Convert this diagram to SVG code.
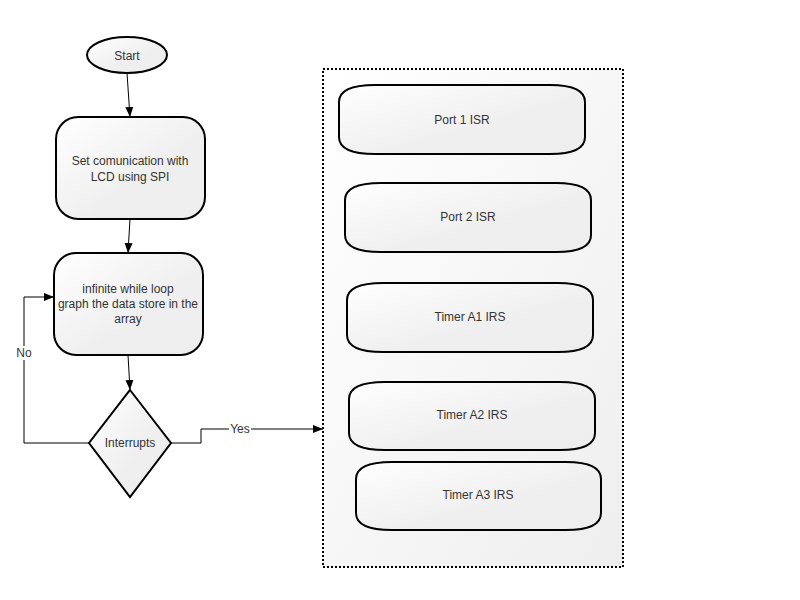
<svg xmlns="http://www.w3.org/2000/svg" width="800" height="600" viewBox="0 0 800 600">
<defs>
<linearGradient id="g" x1="0" y1="0" x2="1" y2="1">
<stop offset="0" stop-color="#ffffff"/>
<stop offset="0.6" stop-color="#efefef"/>
<stop offset="1" stop-color="#eeeeee"/>
</linearGradient>
<linearGradient id="gc" x1="0" y1="0" x2="1" y2="1">
<stop offset="0" stop-color="#ffffff"/>
<stop offset="1" stop-color="#eeeeee"/>
</linearGradient>
<marker id="arr" viewBox="0 0 10 10" refX="10" refY="5" markerWidth="10" markerHeight="10" markerUnits="userSpaceOnUse" orient="auto">
<path d="M0,1 L10,5 L0,9 Z" fill="#000"/>
</marker>
<style>
.node{fill:url(#g);stroke:#000;stroke-width:2}
.t{font-family:"Liberation Sans",Arial,sans-serif;font-size:12px;fill:#333;text-anchor:middle;dominant-baseline:central}
.c{fill:none;stroke:#000;stroke-width:1}
.lbl{fill:#fff}
</style>
</defs>
<rect width="800" height="600" fill="#fff"/>

<g id="container">
<rect x="323" y="69" width="300" height="498" fill="url(#gc)" stroke="#000" stroke-width="2" stroke-dasharray="2,2"/>
</g>

<g id="start">
<ellipse class="node" cx="127" cy="55" rx="40" ry="18"/>
<text class="t" x="127" y="56">Start</text>
</g>

<g id="setlcd">
<rect class="node" x="56" y="117" width="149" height="102" rx="22"/>
<text class="t" x="130" y="161">Set comunication with</text>
<text class="t" x="130" y="177">LCD using SPI</text>
</g>

<g id="loop">
<rect class="node" x="54" y="253" width="149" height="102" rx="22"/>
<text class="t" x="128" y="289">infinite while loop</text>
<text class="t" x="128" y="304">graph the data store in the</text>
<text class="t" x="128" y="319">array</text>
</g>

<g id="interrupts">
<path class="node" d="M130,390 L171,443 L130,497 L89,443 Z"/>
<text class="t" x="130" y="443">Interrupts</text>
</g>

<g id="port1">
<path class="node" d="M339,102 C339,91 350,85 375,85 L550,85 C575,85 585,91 585,102 L585,137 C585,148 575,154 550,154 L375,154 C350,154 339,148 339,137 Z"/>
<text class="t" x="462" y="120">Port 1 ISR</text>
</g>

<g id="port2">
<path class="node" d="M345,200 C345,189 356,183 381,183 L556,183 C581,183 591,189 591,200 L591,235 C591,246 581,252 556,252 L381,252 C356,252 345,246 345,235 Z"/>
<text class="t" x="468" y="217">Port 2 ISR</text>
</g>

<g id="timera1">
<path class="node" d="M347,300 C347,289 358,283 383,283 L558,283 C583,283 593,289 593,300 L593,335 C593,346 583,352 558,352 L383,352 C358,352 347,346 347,335 Z"/>
<text class="t" x="470" y="317">Timer A1 IRS</text>
</g>

<g id="timera2">
<path class="node" d="M349,399 C349,388 360,382 385,382 L560,382 C585,382 595,388 595,399 L595,433 C595,444 585,450 560,450 L385,450 C360,450 349,444 349,433 Z"/>
<text class="t" x="472" y="415">Timer A2 IRS</text>
</g>

<g id="timera3">
<path class="node" d="M356,479 C356,468 367,462 392,462 L566,462 C591,462 601,468 601,479 L601,513 C601,524 591,530 566,530 L392,530 C367,530 356,524 356,513 Z"/>
<text class="t" x="478" y="495">Timer A3 IRS</text>
</g>

<g id="connectors">
<path class="c" d="M127,73 L130,117" marker-end="url(#arr)"/>
<path class="c" d="M130,219 L128,253" marker-end="url(#arr)"/>
<path class="c" d="M128,355 L130,390" marker-end="url(#arr)"/>
<path class="c" d="M89,443 L24,443 L24,297 L54,297" marker-end="url(#arr)"/>
<path class="c" d="M171,443 L201,443 L201,429 L323,429" marker-end="url(#arr)"/>
<rect class="lbl" x="16" y="346" width="17" height="14"/>
<text class="t" x="24" y="353">No</text>
<rect class="lbl" x="229" y="422" width="22" height="14"/>
<text class="t" x="240" y="429">Yes</text>
</g>
</svg>
